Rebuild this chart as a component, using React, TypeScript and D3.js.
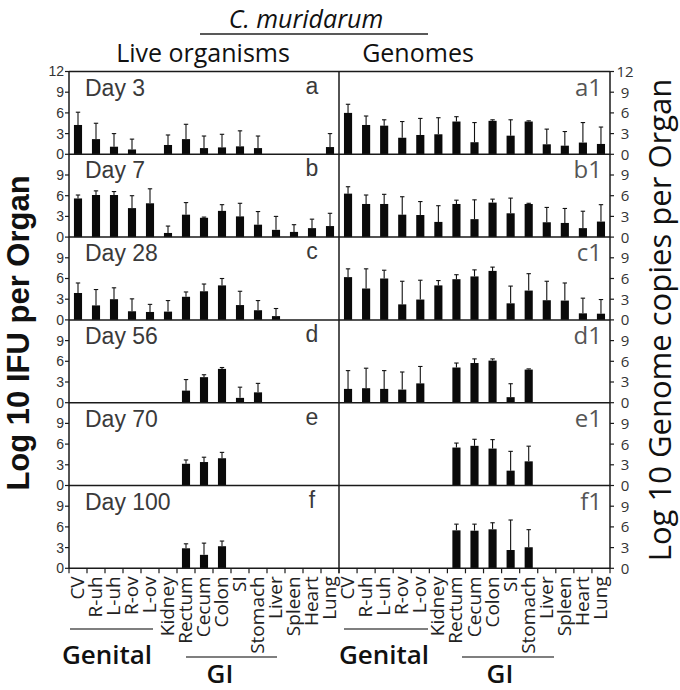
import React from "react";
import * as d3 from "d3";

const categories = ["CV", "R-uh", "L-uh", "R-ov", "L-ov", "Kidney", "Rectum", "Cecum", "Colon", "SI", "Stomach", "Liver", "Spleen", "Heart", "Lung"];
const dayLabels = ["Day 3", "Day 7", "Day 28", "Day 56", "Day 70", "Day 100"];
const liveLetters = ["a", "b", "c", "d", "e", "f"];
const genomeLetters = ["a1", "b1", "c1", "d1", "e1", "f1"];
const yTicks = [0, 3, 6, 9, 12];

// Live organisms (Log10 IFU per organ): mean and SD
const liveDay3Mean = [4.25, 2.2, 1.1, 0.7, 0, 1.35, 2.2, 0.9, 1.0, 1.15, 0.9, 0, 0, 0, 1.05];
const liveDay3Sd = [1.85, 2.3, 1.9, 1.5, 0, 1.45, 2.15, 1.75, 1.9, 2.25, 1.75, 0, 0, 0, 1.95];
const liveDay7Mean = [5.6, 6.1, 6.1, 4.2, 4.9, 0.6, 3.25, 2.8, 3.8, 3.0, 1.8, 1.05, 0.75, 1.3, 1.6];
const liveDay7Sd = [0.5, 0.6, 0.5, 1.8, 2.1, 1.0, 1.75, 0.1, 0.9, 1.9, 1.9, 1.95, 1.05, 1.3, 1.85];
const liveDay28Mean = [3.9, 2.1, 3.0, 1.25, 1.15, 1.2, 3.35, 4.15, 5.0, 2.15, 1.4, 0.55, 0, 0, 0];
const liveDay28Sd = [1.45, 2.3, 1.65, 1.8, 1.1, 1.6, 0.7, 1.05, 1.0, 2.0, 1.4, 1.1, 0, 0, 0];
const liveDay56Mean = [0, 0, 0, 0, 0, 0, 1.75, 3.7, 4.9, 0.7, 1.5, 0, 0, 0, 0];
const liveDay56Sd = [0, 0, 0, 0, 0, 0, 1.6, 0.35, 0.2, 1.55, 1.3, 0, 0, 0, 0];
const liveDay70Mean = [0, 0, 0, 0, 0, 0, 3.15, 3.4, 3.95, 0, 0, 0, 0, 0, 0];
const liveDay70Sd = [0, 0, 0, 0, 0, 0, 0.55, 0.7, 0.85, 0, 0, 0, 0, 0, 0];
const liveDay100Mean = [0, 0, 0, 0, 0, 0, 2.9, 1.95, 3.2, 0, 0, 0, 0, 0, 0];
const liveDay100Sd = [0, 0, 0, 0, 0, 0, 0.65, 1.7, 0.75, 0, 0, 0, 0, 0, 0];

// Genomes (Log10 genome copies per organ): mean and SD
const genDay3Mean = [6.0, 4.25, 4.15, 2.4, 2.8, 2.9, 4.75, 1.75, 4.85, 2.7, 4.75, 1.45, 1.25, 1.7, 1.5];
const genDay3Sd = [1.25, 1.3, 0.85, 2.35, 2.4, 2.4, 0.7, 2.85, 0.15, 2.3, 0.1, 2.2, 2.05, 2.9, 2.45];
const genDay7Mean = [6.3, 4.8, 4.8, 3.25, 3.2, 2.2, 4.8, 2.6, 5.0, 3.45, 4.8, 2.15, 2.05, 1.3, 2.25];
const genDay7Sd = [1.0, 1.3, 1.4, 2.6, 1.95, 2.35, 0.55, 2.8, 0.5, 2.2, 0.1, 2.15, 2.1, 2.45, 2.45];
const genDay28Mean = [6.2, 4.55, 6.0, 2.25, 2.95, 5.0, 5.9, 6.3, 7.1, 2.4, 4.25, 2.85, 2.8, 0.95, 0.9];
const genDay28Sd = [1.2, 2.85, 1.2, 3.35, 2.8, 0.7, 0.65, 0.95, 0.55, 2.5, 2.45, 2.75, 2.55, 2.2, 2.05];
const genDay56Mean = [2.0, 2.1, 2.0, 1.9, 2.8, 0, 5.1, 5.75, 6.1, 0.8, 4.8, 0, 0, 0, 0];
const genDay56Sd = [2.65, 2.9, 2.65, 2.55, 2.45, 0, 0.65, 0.6, 0.25, 1.95, 0.1, 0, 0, 0, 0];
const genDay70Mean = [0, 0, 0, 0, 0, 0, 5.5, 5.75, 5.35, 2.15, 3.5, 0, 0, 0, 0];
const genDay70Sd = [0, 0, 0, 0, 0, 0, 0.65, 0.95, 1.3, 2.8, 2.2, 0, 0, 0, 0];
const genDay100Mean = [0, 0, 0, 0, 0, 0, 5.5, 5.45, 5.65, 2.65, 3.05, 0, 0, 0, 0];
const genDay100Sd = [0, 0, 0, 0, 0, 0, 0.9, 0.95, 0.95, 4.35, 2.55, 0, 0, 0, 0];

const liveMeans = [liveDay3Mean, liveDay7Mean, liveDay28Mean, liveDay56Mean, liveDay70Mean, liveDay100Mean];
const liveSds = [liveDay3Sd, liveDay7Sd, liveDay28Sd, liveDay56Sd, liveDay70Sd, liveDay100Sd];
const genMeans = [genDay3Mean, genDay7Mean, genDay28Mean, genDay56Mean, genDay70Mean, genDay100Mean];
const genSds = [genDay3Sd, genDay7Sd, genDay28Sd, genDay56Sd, genDay70Sd, genDay100Sd];

const W = 680, H = 690;
const X0 = 69, XM = 339, X1 = 610;
const TOP = 71.5, ROWH = 82.8;
const AX = "#1a1a1a";

export default function App() {
  const xLeft = d3.scaleBand().domain(categories).range([X0, XM]).paddingInner(0.55).paddingOuter(0.275);
  const xRight = d3.scaleBand().domain(categories).range([XM, X1]).paddingInner(0.55).paddingOuter(0.275);
  const stepL = d3.scaleBand().domain(categories).range([X0, XM]);
  const stepR = d3.scaleBand().domain(categories).range([XM, X1]);
  const bottom = TOP + 6 * ROWH;

  const panel = (row: number, x: d3.ScaleBand<string>, means: number[], sds: number[], key: string) => {
    const y = d3.scaleLinear().domain([0, 12]).range([TOP + (row + 1) * ROWH, TOP + row * ROWH]);
    const bw = x.bandwidth();
    return (
      <g key={key}>
        {categories.map((c, i) => {
          const m = means[i];
          if (!m) return null;
          const cx = (x(c) as number) + bw / 2;
          const top = y(m + sds[i]);
          return (
            <g key={c}>
              <rect x={x(c)} y={y(m)} width={bw} height={y(0) - y(m)} fill="#0a0a0a" />
              {sds[i] > 0 && (
                <g stroke="#111" strokeWidth={1.1}>
                  <line x1={cx} x2={cx} y1={y(m)} y2={top} />
                  <line x1={cx - 2.2} x2={cx + 2.2} y1={top} y2={top} />
                </g>
              )}
            </g>
          );
        })}
      </g>
    );
  };

  const rows = d3.range(6);

  return (
    <svg width={W} height={H} style={{ position: "absolute", left: 0, top: 0, background: "#fff" }}>
      <rect x={0} y={0} width={W} height={H} fill="#fff" />
      {/* header */}
      <text x={306} y={28} textAnchor="middle" fontFamily="Open Sans" fontStyle="italic" fontSize={25} fill="#111">C. muridarum</text>
      <line x1={200} x2={428} y1={34} y2={34} stroke="#222" strokeWidth={1.6} />
      <text x={203} y={62} textAnchor="middle" fontFamily="Open Sans" fontSize={25} fill="#111">Live organisms</text>
      <text x={418} y={62} textAnchor="middle" fontFamily="Open Sans" fontSize={25} fill="#111">Genomes</text>

      {/* axis titles */}
      <text transform={`translate(29,333) rotate(-90)`} textAnchor="middle" fontFamily="Liberation Sans" fontWeight="bold" fontSize={31} fill="#111">Log 10 IFU per Organ</text>
      <text transform={`translate(671,320) rotate(-90)`} textAnchor="middle" fontFamily="Open Sans" fontSize={31} fill="#111">Log 10 Genome copies per Organ</text>

      {/* bars */}
      {rows.map((r) => panel(r, xLeft, liveMeans[r], liveSds[r], "L" + r))}
      {rows.map((r) => panel(r, xRight, genMeans[r], genSds[r], "R" + r))}

      {/* frame */}
      <g stroke={AX} strokeWidth={1.5} fill="none">
        <line x1={X0} x2={X1} y1={TOP} y2={TOP} />
        <line x1={X0} x2={X0} y1={TOP} y2={bottom} />
        <line x1={XM} x2={XM} y1={TOP} y2={bottom} />
        <line x1={X1} x2={X1} y1={TOP} y2={bottom} />
        {rows.map((r) => (
          <line key={r} x1={X0} x2={X1} y1={TOP + (r + 1) * ROWH} y2={TOP + (r + 1) * ROWH} />
        ))}
      </g>

      {/* y ticks + labels */}
      {rows.map((r) => {
        const y = d3.scaleLinear().domain([0, 12]).range([TOP + (r + 1) * ROWH, TOP + r * ROWH]);
        const ticks = r === 0 ? yTicks : yTicks.slice(0, 4);
        return (
          <g key={"yt" + r}>
            {ticks.map((t) => (
              <g key={t}>
                <line x1={X0 - 4} x2={X0} y1={y(t)} y2={y(t)} stroke={AX} strokeWidth={1.2} />
                <line x1={X1} x2={X1 + 4} y1={y(t)} y2={y(t)} stroke={AX} strokeWidth={1.2} />
                <text x={X0 - 5} y={y(t)} dy="0.35em" textAnchor="end" fontFamily="Liberation Sans" fontSize={14} fill="#333">{t}</text>
                <text x={625} y={y(t)} dy="0.36em" textAnchor="middle" fontFamily="Open Sans" fontSize={15} fill="#333">{t}</text>
              </g>
            ))}
            <text x={85} y={TOP + r * ROWH + 24} fontFamily="Liberation Sans" fontSize={23} fill="#3a3a3a">{dayLabels[r]}</text>
            <text x={312} y={TOP + r * ROWH + 22} textAnchor="middle" fontFamily="Liberation Sans" fontSize={23} fill="#3a3a3a">{liveLetters[r]}</text>
            <text x={602} y={TOP + r * ROWH + 24} textAnchor="end" fontFamily="Open Sans" fontSize={24} fill="#555">{genomeLetters[r]}</text>
          </g>
        );
      })}

      {/* x ticks */}
      {[stepL, stepR].map((s, k) => (
        <g key={"xt" + k} stroke={AX} strokeWidth={1.2}>
          {categories.map((c) => (
            <line key={c} x1={s(c)} x2={s(c)} y1={bottom} y2={bottom + 5} />
          ))}
          <line x1={s.range()[1]} x2={s.range()[1]} y1={bottom} y2={bottom + 5} />
        </g>
      ))}

      {/* x labels */}
      {[stepL, stepR].map((s, k) => (
        <g key={"xl" + k}>
          {categories.map((c) => (
            <text key={c} transform={`translate(${(s(c) as number) + s.bandwidth() / 2 + 6},${bottom + 8}) rotate(-90)`} textAnchor="end" fontFamily="Open Sans" fontSize={19} fill="#222">{c}</text>
          ))}
        </g>
      ))}

      {/* group labels */}
      <g stroke="#555" strokeWidth={1.6}>
        <line x1={70} x2={153} y1={629} y2={629} />
        <line x1={186} x2={277} y1={657} y2={657} />
        <line x1={344} x2={428} y1={629} y2={629} />
        <line x1={462} x2={554} y1={657} y2={657} />
      </g>
      <g fontFamily="Open Sans" fontWeight={600} fontSize={26} fill="#111" textAnchor="middle">
        <text x={107} y={664}>Genital</text>
        <text x={220} y={683}>GI</text>
        <text x={384} y={664}>Genital</text>
        <text x={500} y={683}>GI</text>
      </g>
    </svg>
  );
}
